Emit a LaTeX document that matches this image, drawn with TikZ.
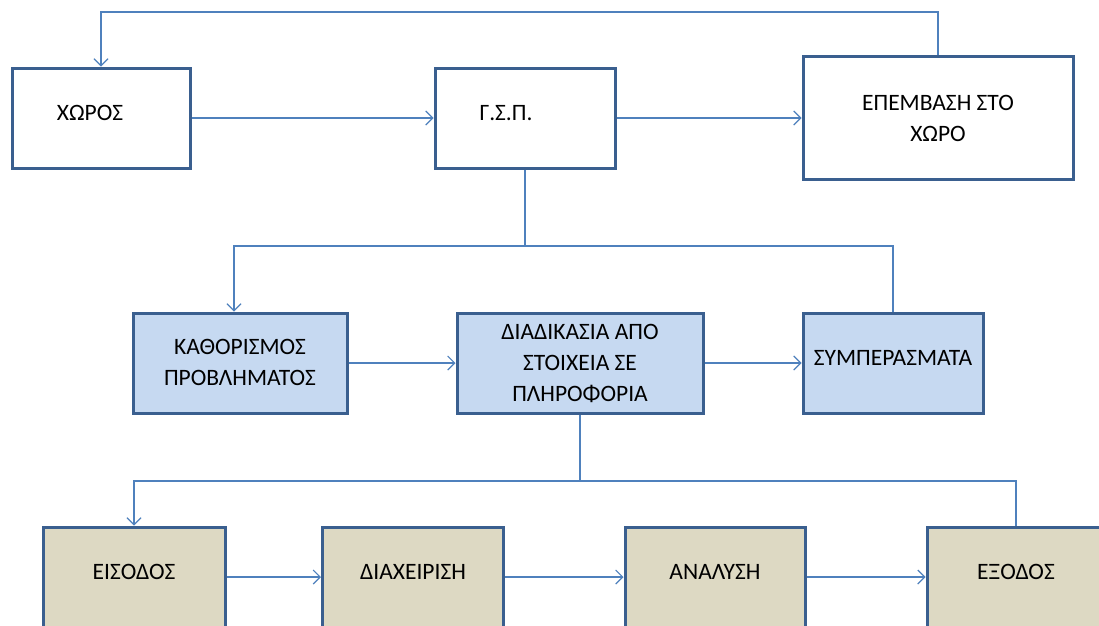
\documentclass[tikz,border=0pt]{standalone}
\usepackage{fontspec}
\setmainfont{Carlito}
\usetikzlibrary{arrows.meta}
\definecolor{boxline}{HTML}{3A5F8F}
\definecolor{conline}{HTML}{4F81BD}
\definecolor{bluefill}{HTML}{C6D9F1}
\definecolor{tanfill}{HTML}{DDD9C3}
\tikzset{
  box/.style={draw=boxline, line width=3pt, fill=white, rectangle, inner sep=0pt},
  bluebox/.style={box, fill=bluefill},
  tanbox/.style={box, fill=tanfill},
  lbl/.style={font=\fontsize{23.5}{31}\selectfont, align=center, inner sep=0pt, text=black},
  conn/.style={draw=conline, line width=1.3pt},
  arr/.style={conn, -{Straight Barb[length=7pt, width=14pt, line width=1.1pt]}}
}
\begin{document}
\begin{tikzpicture}[x=1pt, y=-1pt]
  \path[use as bounding box, fill=white] (0,0) rectangle (1099,625);
  \clip (0,0) rectangle (1099,625);

  % top row
  \node[box, minimum width=178pt, minimum height=100pt] (xoros) at (101,118) {};
  \node[box, minimum width=180pt, minimum height=100pt] (gsp) at (525,118) {};
  \node[box, minimum width=270pt, minimum height=123pt] (epem) at (938,118) {};
  \node[lbl] (xoros-t) at (90,113) {ΧΩΡΟΣ};
  \node[lbl] (gsp-t) at (506,113) {Γ.Σ.Π.};
  \node[lbl] (epem-t) at (938,118) {ΕΠΕΜΒΑΣΗ ΣΤΟ\\ΧΩΡΟ};

  % middle row
  \node[bluebox, minimum width=214pt, minimum height=100pt] (kath) at (240,363) {};
  \node[bluebox, minimum width=246pt, minimum height=100pt] (diad) at (580,363) {};
  \node[bluebox, minimum width=180pt, minimum height=100pt] (symp) at (893,363) {};
  \node[lbl] (kath-t) at (240,362) {ΚΑΘΟΡΙΣΜΟΣ\\ΠΡΟΒΛΗΜΑΤΟΣ};
  \node[lbl] (diad-t) at (580,363) {ΔΙΑΔΙΚΑΣΙΑ ΑΠΟ\\ΣΤΟΙΧΕΙΑ ΣΕ\\ΠΛΗΡΟΦΟΡΙΑ};
  \node[lbl] (symp-t) at (893,358) {ΣΥΜΠΕΡΑΣΜΑΤΑ};

  % bottom row
  \node[tanbox, minimum width=182pt, minimum height=100pt] (eis) at (134,577) {};
  \node[tanbox, minimum width=181pt, minimum height=100pt] (diax) at (413,577) {};
  \node[tanbox, minimum width=180pt, minimum height=100pt] (anal) at (715,577) {};
  \node[tanbox, minimum width=178pt, minimum height=100pt] (exod) at (1016,577) {};
  \node[lbl] (eis-t) at (134,572) {ΕΙΣΟΔΟΣ};
  \node[lbl] (diax-t) at (413,572) {ΔΙΑΧΕΙΡΙΣΗ};
  \node[lbl] (anal-t) at (715,572) {ΑΝΑΛΥΣΗ};
  \node[lbl] (exod-t) at (1016,572) {ΕΞΟΔΟΣ};

  % routing levels
  \coordinate (toplevel) at (0,12);
  \coordinate (midlevel) at (0,246);
  \coordinate (lowlevel) at (0,481);

  % top row flow and feedback
  \draw[arr] (xoros.east) -- (gsp.west);
  \draw[arr] (gsp.east) -- (epem.west);
  \draw[arr] (epem.north) |- (toplevel -| xoros.north) -- (xoros.north);

  % branch to the middle row
  \draw[conn] (gsp.south) -- (gsp.south |- midlevel);
  \draw[arr] (symp.north) |- ([xshift=-6pt]kath.north |- midlevel) -- ([xshift=-6pt]kath.north);
  \draw[arr] (kath.east) -- (diad.west);
  \draw[arr] (diad.east) -- (symp.west);

  % branch to the bottom row
  \draw[conn] (diad.south) -- (diad.south |- lowlevel);
  \draw[arr] (exod.north) |- (eis.north |- lowlevel) -- (eis.north);
  \draw[arr] (eis.east) -- (diax.west);
  \draw[arr] (diax.east) -- (anal.west);
  \draw[arr] (anal.east) -- (exod.west);
\end{tikzpicture}
\end{document}
